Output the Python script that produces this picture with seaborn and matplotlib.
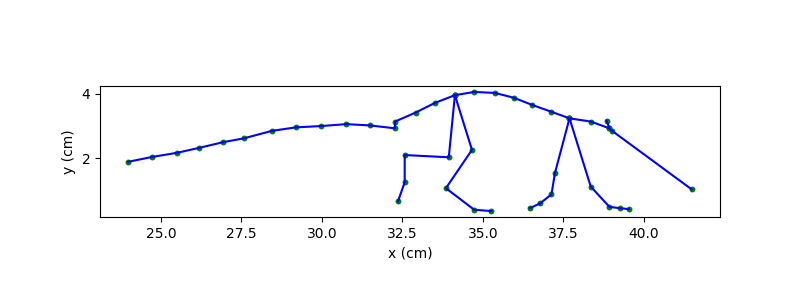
import matplotlib
matplotlib.use("Agg")
import matplotlib.pyplot as plt
import seaborn as sns
import pandas as pd

# Body line: tail -> back -> neck
body_x = [23.98, 24.72, 25.50, 26.17, 26.93, 27.58, 28.44, 29.19, 29.97, 30.75, 31.49, 32.27,
          32.27, 32.91, 33.51, 34.13, 34.73, 35.37, 35.96, 36.52, 37.11, 37.69, 38.35, 38.93,
          39.00, 41.49]
body_y = [1.89, 2.04, 2.17, 2.32, 2.50, 2.62, 2.85, 2.96, 3.00, 3.06, 3.02, 2.93,
          3.14, 3.42, 3.72, 3.96, 4.06, 4.03, 3.88, 3.66, 3.45, 3.24, 3.14, 2.93,
          2.86, 1.03]

# Head segment
head_x = [38.84, 38.93]
head_y = [3.17, 2.93]

# Legs
leg1_x = [34.13, 33.94, 32.57, 32.57, 32.36]
leg1_y = [3.96, 2.03, 2.10, 1.25, 0.66]

leg2_x = [34.13, 34.66, 33.85, 34.73, 35.26]
leg2_y = [3.96, 2.26, 1.07, 0.40, 0.36]

leg3_x = [37.69, 37.24, 37.13, 36.78, 36.46]
leg3_y = [3.24, 1.55, 0.88, 0.60, 0.45]

leg4_x = [37.69, 38.35, 38.93, 39.25, 39.53]
leg4_y = [3.24, 1.12, 0.49, 0.45, 0.42]

segments = [(body_x, body_y), (head_x, head_y), (leg1_x, leg1_y),
            (leg2_x, leg2_y), (leg3_x, leg3_y), (leg4_x, leg4_y)]

fig, ax = plt.subplots(figsize=(8, 3), dpi=100)

for sx, sy in segments:
    df = pd.DataFrame({"x": sx, "y": sy})
    sns.scatterplot(data=df, x="x", y="y", color="green", s=18, linewidth=0,
                    ax=ax, zorder=2)
for sx, sy in segments:
    df = pd.DataFrame({"x": sx, "y": sy})
    sns.lineplot(data=df, x="x", y="y", sort=False, estimator=None, color="blue",
                 linewidth=1.5, ax=ax, zorder=3)

ax.set_aspect("equal")
ax.set_xlabel("x (cm)")
ax.set_ylabel("y (cm)")

fig.savefig("out.png", dpi=100)
